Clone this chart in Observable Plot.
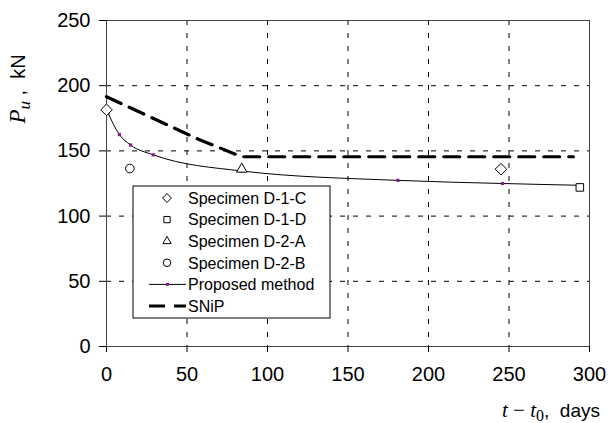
<!DOCTYPE html>
<html>
<head>
<meta charset="utf-8">
<script src="https://cdn.jsdelivr.net/npm/d3@7"></script>
<script src="https://cdn.jsdelivr.net/npm/@observablehq/plot@0.6"></script>
<style>
  body { margin: 0; background: #fff; }
  #chart { width: 608px; height: 423px; }
</style>
</head>
<body>
<div id="chart"></div>
<script>
// ---- data ----
const xTicks = [0, 50, 100, 150, 200, 250, 300];
const yTicks = [0, 50, 100, 150, 200, 250];

const d1cT = [0, 245];
const d1cP = [181.5, 136];
const d1dT = [294];
const d1dP = [122];
const d2aT = [84];
const d2aP = [136];
const d2bT = [14.5];
const d2bP = [136.5];

const propT = [1, 8, 15, 29, 84, 181, 246, 295];
const propP = [179, 162.5, 154.5, 147, 134.6, 127.4, 125, 123.6];

const snipT = [0, 57, 84, 290];
const snipP = [191.5, 159, 145.5, 145.5];

const legendLabels = ["Specimen D-1-C", "Specimen D-1-D", "Specimen D-2-A", "Specimen D-2-B", "Proposed method", "SNiP"];

// ---- tables ----
const zip = (t, p) => t.map((v, i) => ({t: v, p: p[i]}));
const d1c = zip(d1cT, d1cP), d1d = zip(d1dT, d1dP), d2a = zip(d2aT, d2aP), d2b = zip(d2bT, d2bP);
const prop = zip(propT, propP), snip = zip(snipT, snipP);

const FONT = "'Liberation Sans', Arial, sans-serif";

const chart = Plot.plot({
  width: 608,
  height: 423,
  marginLeft: 106,
  marginRight: 19,
  marginTop: 20,
  marginBottom: 77,
  style: {fontFamily: FONT, fontSize: "20px", color: "#000", background: "#fff"},
  x: {domain: [0, 300], ticks: xTicks},
  y: {domain: [0, 250], ticks: yTicks},
  marks: [
    Plot.gridX(xTicks, {stroke: "#000", strokeOpacity: 1, strokeWidth: 1, strokeDasharray: "5,8"}),
    Plot.gridY(yTicks, {stroke: "#000", strokeOpacity: 1, strokeWidth: 1, strokeDasharray: "5,8"}),
    Plot.frame({stroke: "#444", strokeWidth: 1}),
    Plot.axisX({ticks: xTicks, tickSize: 6, tickPadding: 14, fontSize: 20, label: null, stroke: "#000"}),
    Plot.axisY({ticks: yTicks, tickSize: 7, tickPadding: 9, fontSize: 20, label: null, stroke: "#000"}),
    Plot.line(snip, {x: "t", y: "p", stroke: "#000", strokeWidth: 3.2, strokeDasharray: "16,9"}),
    Plot.line(prop, {x: "t", y: "p", stroke: "#000", strokeWidth: 1, curve: "monotone-x"}),
    Plot.dot(prop, {x: "t", y: "p", symbol: "square", r: 1.8, fill: "#8a1a8a", stroke: "none"}),
    Plot.dot(d1c, {x: "t", y: "p", symbol: "diamond2", r: 5.2, stroke: "#000", strokeWidth: 1, fill: "#fff"}),
    Plot.dot(d1d, {x: "t", y: "p", symbol: "square2", r: 4.8, stroke: "#000", strokeWidth: 1, fill: "#fff"}),
    Plot.dot(d2a, {x: "t", y: "p", symbol: "triangle2", r: 5, stroke: "#000", strokeWidth: 1, fill: "#fff"}),
    Plot.dot(d2b, {x: "t", y: "p", symbol: "circle", r: 4.3, stroke: "#000", strokeWidth: 1, fill: "#fff"})
  ]
});

document.getElementById("chart").appendChild(chart);

// ---- legend & axis labels ----
const svg = d3.select(chart);
const lg = svg.append("g").attr("font-family", FONT).attr("font-size", 16)
  .attr("text-anchor", "start").attr("fill", "#000");
const lx = 133, ly = 186, lw = 197, lh = 132;
lg.append("rect").attr("x", lx).attr("y", ly).attr("width", lw).attr("height", lh)
  .attr("fill", "#fff").attr("stroke", "#000").attr("stroke-width", 1);
const symbols = [d3.symbolDiamond2, d3.symbolSquare2, d3.symbolTriangle2, d3.symbolCircle];
const symSizes = [50, 50, 50, 45];
legendLabels.forEach((lab, i) => {
  const cy = ly + 12 + i * 21.6;
  if (i < 4) {
    lg.append("path").attr("d", d3.symbol(symbols[i], symSizes[i])())
      .attr("transform", `translate(${lx + 34},${cy})`)
      .attr("fill", "#fff").attr("stroke", "#000").attr("stroke-width", 1);
  } else if (i === 4) {
    lg.append("line").attr("x1", lx + 16).attr("x2", lx + 53).attr("y1", cy).attr("y2", cy)
      .attr("stroke", "#000").attr("stroke-width", 1);
    lg.append("rect").attr("x", lx + 33).attr("y", cy - 1.5).attr("width", 3).attr("height", 3).attr("fill", "#8a1a8a");
  } else {
    lg.append("line").attr("x1", lx + 16).attr("x2", lx + 53).attr("y1", cy).attr("y2", cy)
      .attr("stroke", "#000").attr("stroke-width", 3.2).attr("stroke-dasharray", "16,9");
  }
  lg.append("text").attr("x", lx + 55).attr("y", cy).attr("dy", "0.36em").attr("text-anchor", "start").text(lab);
});

// y label
const yl = svg.append("text").attr("transform", "translate(25,89) rotate(-90)")
  .attr("text-anchor", "middle").attr("fill", "#000").attr("font-family", FONT).attr("font-size", 20);
yl.append("tspan").attr("font-family", "'Liberation Serif', serif").attr("font-style", "italic").attr("font-size", 23).text("P");
yl.append("tspan").attr("font-family", "'Liberation Serif', serif").attr("font-style", "italic").attr("font-size", 17).attr("dy", 5).text("u");
yl.append("tspan").attr("dy", -5).text(" ,  kN");

// x label
const xl = svg.append("text").attr("x", 600).attr("y", 417)
  .attr("text-anchor", "end").attr("fill", "#000").attr("font-family", FONT).attr("font-size", 19);
xl.append("tspan").attr("font-family", "'Liberation Serif', serif").attr("font-style", "italic").attr("font-size", 21).text("t");
xl.append("tspan").attr("font-family", "'Liberation Serif', serif").attr("font-size", 21).text(" \u2212 ");
xl.append("tspan").attr("font-family", "'Liberation Serif', serif").attr("font-style", "italic").attr("font-size", 21).text("t");
xl.append("tspan").attr("font-family", "'Liberation Serif', serif").attr("font-size", 16).attr("dy", 4).text("0");
xl.append("tspan").attr("dy", -4).text(",  days");
</script>
</body>
</html>
